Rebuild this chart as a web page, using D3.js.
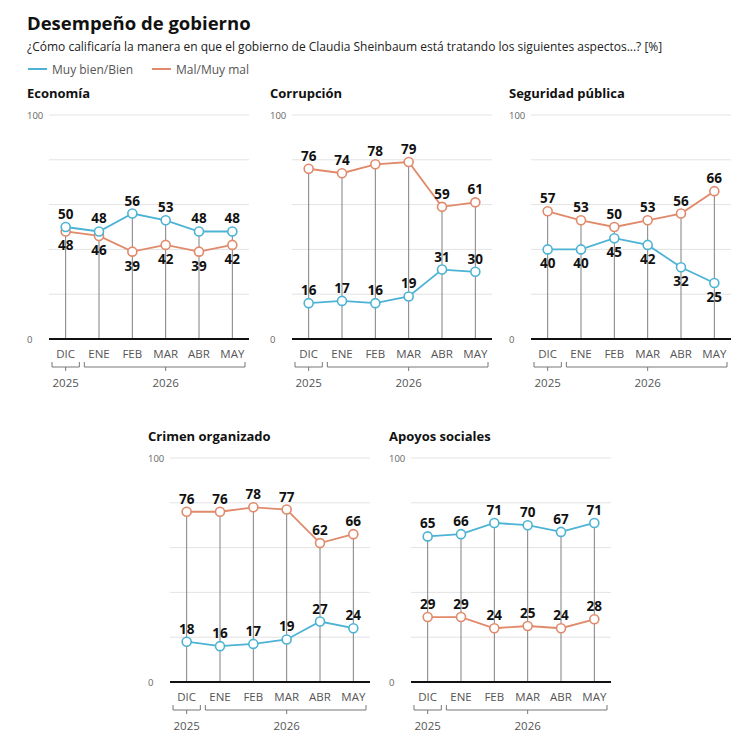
<!DOCTYPE html>
<html>
<head>
<meta charset="utf-8">
<script src="https://cdn.jsdelivr.net/npm/d3@7"></script>
<style>
  body { margin: 0; background: #fff; }
  svg { font-family: "Open Sans", sans-serif; }
</style>
</head>
<body>
<div id="chart"></div>
<script>
const months = ["DIC", "ENE", "FEB", "MAR", "ABR", "MAY"];
const years = ["2025", "2026"];
const yearMonths = [["DIC"], ["ENE", "FEB", "MAR", "ABR", "MAY"]];
const panelTitles = ["Economía", "Corrupción", "Seguridad pública", "Crimen organizado", "Apoyos sociales"];

const economiaBien = [50, 48, 56, 53, 48, 48];
const economiaMal = [48, 46, 39, 42, 39, 42];
const corrupcionBien = [16, 17, 16, 19, 31, 30];
const corrupcionMal = [76, 74, 78, 79, 59, 61];
const seguridadBien = [40, 40, 45, 42, 32, 25];
const seguridadMal = [57, 53, 50, 53, 56, 66];
const crimenBien = [18, 16, 17, 19, 27, 24];
const crimenMal = [76, 76, 78, 77, 62, 66];
const apoyosBien = [65, 66, 71, 70, 67, 71];
const apoyosMal = [29, 29, 24, 25, 24, 28];

const bienSeries = [economiaBien, corrupcionBien, seguridadBien, crimenBien, apoyosBien];
const malSeries = [economiaMal, corrupcionMal, seguridadMal, crimenMal, apoyosMal];

// layout
const width = 748, height = 751;
const panelPos = [[49, 115], [292, 115], [531, 115], [170, 458], [411, 458]];
const pw = 200, ph = 224;
const blue = "#4cb3d4", orange = "#e08a6b";
// which series gets its labels under the points
const labelsBelow = { "Economía": "mal", "Seguridad pública": "bien" };

const svg = d3.select("#chart").append("svg")
  .attr("width", width).attr("height", height);

svg.append("text").attr("x", 27).attr("y", 30)
  .attr("font-size", 18.5).attr("font-weight", 700).attr("fill", "#111")
  .text("Desempeño de gobierno");

svg.append("text").attr("x", 27).attr("y", 51)
  .attr("font-size", 12).attr("fill", "#222")
  .text("¿Cómo calificaría la manera en que el gobierno de Claudia Sheinbaum está tratando los siguientes aspectos...?  [%]");

const legend = svg.append("g").attr("transform", "translate(0,70)");
[["Muy bien/Bien", blue, 28], ["Mal/Muy mal", orange, 152]].forEach(([lab, c, x0]) => {
  legend.append("line").attr("x1", x0).attr("x2", x0 + 19).attr("y1", -1).attr("y2", -1)
    .attr("stroke", c).attr("stroke-width", 2);
  legend.append("text").attr("x", x0 + 24).attr("y", 3.5)
    .attr("font-size", 12).attr("fill", "#555").text(lab);
});

panelTitles.forEach((title, i) => {
  const [px, py] = panelPos[i];
  const g = svg.append("g").attr("transform", `translate(${px},${py})`);

  const x = d3.scalePoint().domain(months).range([0, pw]).padding(0.5);
  const y = d3.scaleLinear().domain([0, 100]).range([ph, 0]);

  g.append("text").attr("x", -22).attr("y", -17)
    .attr("font-size", 13).attr("font-weight", 700).attr("fill", "#111").text(title);

  // gridlines
  g.selectAll(".grid").data(y.ticks(5).filter(d => d > 0)).enter()
    .append("line")
    .attr("x1", 0).attr("x2", pw)
    .attr("y1", d => y(d)).attr("y2", d => y(d))
    .attr("stroke", "#e3e3e3").attr("stroke-width", 1);

  g.selectAll(".ylab").data([0, 100]).enter()
    .append("text")
    .attr("x", -22).attr("y", d => y(d) + 3.5)
    .attr("font-size", 9.5).attr("fill", "#666").text(d => d);

  const bien = bienSeries[i], mal = malSeries[i];

  // drop lines
  g.selectAll(".drop").data(months).enter()
    .append("line")
    .attr("x1", d => x(d)).attr("x2", d => x(d))
    .attr("y1", (d, j) => y(Math.max(bien[j], mal[j])))
    .attr("y2", ph)
    .attr("stroke", "#808080").attr("stroke-width", 1);

  // baseline
  g.append("line").attr("x1", 0).attr("x2", pw).attr("y1", ph).attr("y2", ph)
    .attr("stroke", "#111").attr("stroke-width", 2);

  // month labels
  g.selectAll(".mlab").data(months).enter()
    .append("text")
    .attr("x", d => x(d)).attr("y", ph + 19)
    .attr("text-anchor", "middle").attr("font-size", 11.5).attr("fill", "#555")
    .text(d => d);

  // year brackets
  const step = x.step();
  yearMonths.forEach((ms, k) => {
    const x0 = k === 0 ? x(ms[0]) - step / 2 + 3 : x(ms[0]) - step / 2 + 2;
    const x1 = k === 0 ? x(ms[ms.length - 1]) + step / 2 - 3 : x(ms[ms.length - 1]) + step / 2 - 4;
    const yb = ph + 28;
    const mid = k === 0 ? x(ms[0]) : x(ms[Math.floor(ms.length / 2)]);
    g.append("path")
      .attr("d", `M${x0},${yb - 5}V${yb}H${x1}V${yb - 5}M${mid},${yb}V${yb + 4}`)
      .attr("fill", "none").attr("stroke", "#777").attr("stroke-width", 1);
    g.append("text").attr("x", mid).attr("y", ph + 48)
      .attr("text-anchor", "middle").attr("font-size", 11.5).attr("fill", "#555")
      .text(years[k]);
  });

  const line = d3.line().x((d, j) => x(months[j])).y(d => y(d));

  [["mal", mal, orange], ["bien", bien, blue]].forEach(([key, vals, c]) => {
    g.append("path").datum(vals).attr("d", line)
      .attr("fill", "none").attr("stroke", c).attr("stroke-width", 1.8);
    g.selectAll(".pt-" + key).data(vals).enter()
      .append("circle")
      .attr("cx", (d, j) => x(months[j])).attr("cy", d => y(d)).attr("r", 4.5)
      .attr("fill", "#fff").attr("stroke", c).attr("stroke-width", 1.6);
    const below = labelsBelow[title] === key;
    g.selectAll(".lab-" + key).data(vals).enter()
      .append("text")
      .attr("x", (d, j) => x(months[j]))
      .attr("y", d => y(d) + (below ? 19 : -8))
      .attr("text-anchor", "middle").attr("font-size", 13.5).attr("font-weight", 700)
      .attr("fill", "#111").text(d => d);
  });
});
</script>
</body>
</html>
